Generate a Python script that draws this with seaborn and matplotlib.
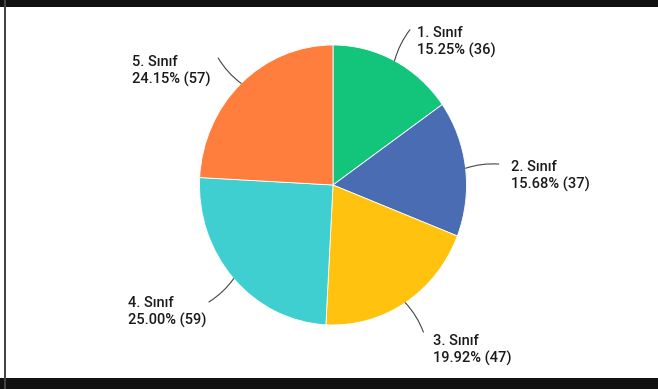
import numpy as np
import matplotlib
matplotlib.use("Agg")
import matplotlib.pyplot as plt
import seaborn as sns
from matplotlib.patches import Rectangle

categories = ["1. Sınıf", "2. Sınıf", "3. Sınıf", "4. Sınıf", "5. Sınıf"]
counts = [36, 37, 47, 59, 57]
percents = [15.25, 15.68, 19.92, 25.00, 24.15]
colors = ["#13C47B", "#4A6CB3", "#FFC30F", "#40CFD1", "#FF7E3E"]

sns.set_theme(style="white")
plt.rcParams["font.family"] = ["Roboto", "DejaVu Sans"]

W, H = 658, 389
fig = plt.figure(figsize=(W / 100, H / 100), dpi=100)
fig.patch.set_facecolor("white")

# frame decorations
fig.patches.append(Rectangle((0, H - 7), W, 7, transform=None, facecolor="#111111", edgecolor="none"))
fig.patches.append(Rectangle((0, 0), W, 11, transform=None, facecolor="#111111", edgecolor="none"))
fig.patches.append(Rectangle((4, 0), 2, H, transform=None, facecolor="#444444", edgecolor="none"))

cx, cy, rx, ry = 333, 185, 133.5, 140
ax = fig.add_axes([(cx - rx) / W, (H - cy - ry) / H, 2 * rx / W, 2 * ry / H])

pal = sns.color_palette(colors)
wedges, _ = ax.pie(counts, colors=pal, startangle=90, counterclock=False,
                   radius=1, wedgeprops=dict(edgecolor="white", linewidth=0.6))
ax.set_xlim(-1, 1)
ax.set_ylim(-1, 1)
ax.set_aspect("auto")
ax.axis("off")

# label offsets in pixels (dx, dy downward) relative to leader-line end
label_dx = [7, 12, 10, -3, -8]
label_dy = [3, 3, 9, 1, 4]
for w, cat, p, n, dx, dy in zip(wedges, categories, percents, counts, label_dx, label_dy):
    mid = np.deg2rad((w.theta1 + w.theta2) / 2)
    ex, ey = np.cos(mid), np.sin(mid)
    right = ex >= 0
    end = (ex * 1.25, ey * 1.25)
    ax.annotate("", xy=(ex, ey), xytext=end, textcoords="data",
                annotation_clip=False,
                arrowprops=dict(arrowstyle="-", color="#444444", lw=0.8,
                                shrinkA=0, shrinkB=0,
                                connectionstyle="arc3,rad=0.1"))
    ax.annotate(f"{cat}\n{p:.2f}% ({n})", xy=end, xycoords="data",
                xytext=(dx, -dy + 7), textcoords="offset pixels",
                ha="left" if right else "right", va="top",
                fontsize=10.5, fontweight="medium", color="#1a1a1a",
                multialignment="left", linespacing=1.25,
                annotation_clip=False)

fig.savefig("out.png", dpi=100, facecolor="white")
